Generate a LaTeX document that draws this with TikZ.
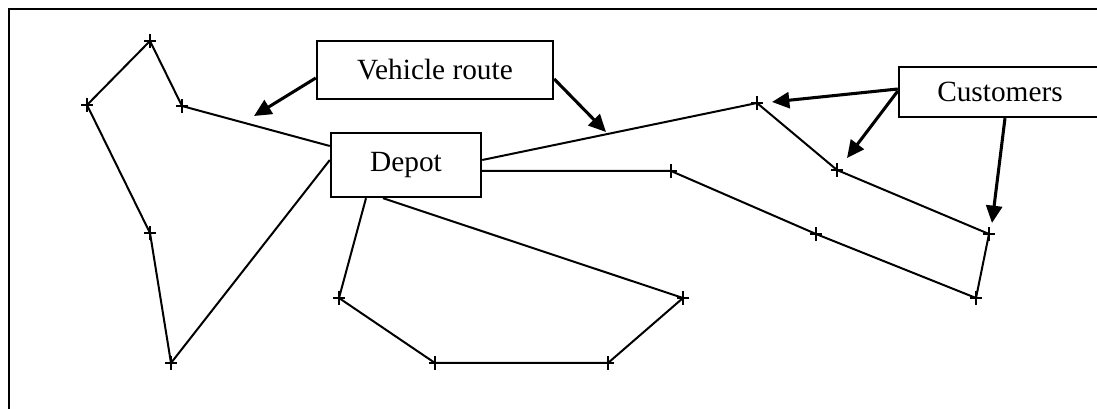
\documentclass[tikz,border=0pt]{standalone}
\usepackage{fontspec}
\setmainfont{Liberation Serif}
\usetikzlibrary{arrows.meta}
\begin{document}
\begin{tikzpicture}[x=0.75pt,y=-0.75pt,
  box/.style={draw,line width=1.8pt,inner sep=0pt,font=\fontsize{22}{26}\selectfont},
  route/.style={line width=1.5pt,line join=round},
  mark cross/.style={line width=1.6pt},
  callout/.style={line width=2.3pt,-{Triangle[length=13pt,width=12pt]}},
  frame/.style={line width=1.8pt}]
\useasboundingbox (0,0) rectangle (1097,409);
\clip (0,0) rectangle (1097,409);
\draw[frame] (9,409) -- (9,9) -- (1097,9);
% boxes
\node[box,minimum width=177pt,minimum height=43.5pt] (vr) at (435,70) {Vehicle route};
\node[box,minimum width=112.5pt,minimum height=48pt] (depot) at (406,165) {Depot};
\node[box,minimum width=180pt,minimum height=37.5pt] (cust) at (1019,92) {Customers\rule{28.5pt}{0pt}};
% customers
\coordinate (a1) at (182,106);
\coordinate (a2) at (150,41);
\coordinate (a3) at (87,105);
\coordinate (a4) at (150,233);
\coordinate (a5) at (171,363);
\coordinate (b1) at (339,298);
\coordinate (b2) at (435,363);
\coordinate (b3) at (608,363);
\coordinate (b4) at (683,298);
\coordinate (c1) at (757,103);
\coordinate (c2) at (837,170);
\coordinate (c3) at (989,234);
\coordinate (c4) at (976,298);
\coordinate (c5) at (816,234);
\coordinate (c6) at (671,171);
\foreach \c in {a1,a2,a3,a4,a5,b1,b2,b3,b4,c1,c2,c3,c4,c5,c6}{
  \draw[mark cross] ([xshift=-4.5pt]\c) -- ([xshift=4.5pt]\c)
    ([yshift=-5pt]\c) -- ([yshift=5pt]\c);
}
% depot attachment points
\coordinate (dl1) at ([yshift=14.25pt]depot.west);
\coordinate (dl2) at ([yshift=3.75pt]depot.west);
\coordinate (dr1) at ([yshift=3.75pt]depot.east);
\coordinate (dr2) at ([yshift=-4.5pt]depot.east);
\coordinate (db1) at ([xshift=-30pt]depot.south);
\coordinate (db2) at ([xshift=-17.25pt]depot.south);
% routes
\draw[route] (dl1) -- (a1) -- (a2) -- (a3) -- (a4) -- (a5) -- (dl2);
\draw[route] (db1) -- (b1) -- (b2) -- (b3) -- (b4) -- (db2);
\draw[route] (dr1) -- (c1) -- (c2) -- (c3) -- (c4) -- (c5) -- (c6) -- (dr2);
% callout arrows
\coordinate (t1) at (254,116);
\coordinate (t2) at (606,132);
\coordinate (t3) at (772,102);
\coordinate (t4) at (847,158);
\coordinate (t5) at (992,223);
\draw[callout] ([yshift=-6pt]vr.west) -- (t1);
\draw[callout] ([yshift=-6.75pt]vr.east) -- (t2);
\draw[callout] ([yshift=2.25pt]cust.west) -- (t3);
\draw[callout] ([yshift=0.75pt]cust.west) -- (t4);
\draw[callout] ([xshift=-10.5pt]cust.south) -- (t5);
\end{tikzpicture}
\end{document}
